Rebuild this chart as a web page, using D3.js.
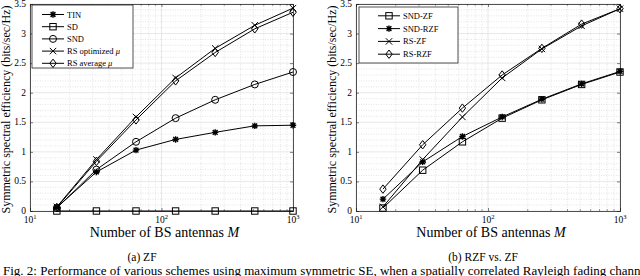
<!DOCTYPE html>
<html>
<head>
<meta charset="utf-8">
<script src="https://cdn.jsdelivr.net/npm/d3@7"></script>
<style>
  body { margin: 0; background: #fff; }
  svg { display: block; }
  text { font-family: "Liberation Serif", "DejaVu Serif", serif; fill: #000; }
</style>
</head>
<body>
<svg id="FIG" width="640" height="276"></svg>
<script>
// antenna counts (x values)
var antennas = [16, 32, 64, 128, 256, 512, 1000];

// (a) ZF
var tin = [0.06, 0.66, 1.03, 1.21, 1.33, 1.44, 1.45];
var sd = [0, 0, 0, 0, 0, 0, 0];
var snd = [0.05, 0.70, 1.17, 1.57, 1.88, 2.14, 2.35];
var rsOpt = [0.07, 0.87, 1.59, 2.25, 2.75, 3.14, 3.43];
var rsAvg = [0.06, 0.84, 1.54, 2.20, 2.68, 3.08, 3.36];

// (b) RZF vs ZF
var sndZf = [0.05, 0.69, 1.17, 1.57, 1.88, 2.14, 2.35];
var sndRzf = [0.20, 0.83, 1.26, 1.59, 1.89, 2.15, 2.36];
var rsZf = [0.07, 0.87, 1.59, 2.25, 2.74, 3.13, 3.42];
var rsRzf = [0.37, 1.12, 1.74, 2.30, 2.75, 3.16, 3.42];

var yTicks = [0, 0.5, 1, 1.5, 2, 2.5, 3, 3.5];
var xTicks = [10, 100, 1000];

var svg = d3.select("#FIG");

function marker(g, type, x, y) {
  var s = 3.2;
  var p = g.append("g").attr("transform", "translate(" + x + "," + y + ")")
    .attr("stroke", "#000").attr("stroke-width", 1).attr("fill", "none");
  if (type == "square") {
    p.append("rect").attr("x", -s).attr("y", -s).attr("width", 2 * s).attr("height", 2 * s);
  } else if (type == "circle") {
    p.append("circle").attr("r", s + 0.3);
  } else if (type == "diamond") {
    p.append("path").attr("d", "M0," + (-s - 1) + "L" + (s) + ",0L0," + (s + 1) + "L" + (-s) + ",0Z");
  } else if (type == "x") {
    p.append("path").attr("d", "M" + -s + "," + -s + "L" + s + "," + s + "M" + -s + "," + s + "L" + s + "," + -s);
  } else if (type == "star") {
    var a = s * 0.75;
    p.append("path").attr("stroke-width", 1.4).attr("d",
      "M" + -s + ",0L" + s + ",0M0," + -s + "L0," + s +
      "M" + -a + "," + -a + "L" + a + "," + a + "M" + -a + "," + a + "L" + a + "," + -a);
  }
}

function drawPanel(x0, x1, series, legendBox, caption, capX) {
  var yTop = 4, yBot = 211;
  var x = d3.scaleLog().domain([10, 1000]).range([x0, x1]);
  var y = d3.scaleLinear().domain([0, 3.5]).range([yBot, yTop]);
  var g = svg.append("g");

  // minor grid
  var minorX = [];
  [10, 100].forEach(function (d) {
    for (var k = 2; k <= 9; k++) minorX.push(d * k);
  });
  var minorY = d3.range(0, 35).map(function (i) { return i / 10; })
    .filter(function (v) { return Math.abs(v * 2 - Math.round(v * 2)) > 1e-6; });
  g.selectAll(".mx").data(minorX).join("line")
    .attr("x1", function (d) { return x(d); }).attr("x2", function (d) { return x(d); })
    .attr("y1", yTop).attr("y2", yBot)
    .attr("stroke", "#d4d4d4").attr("stroke-width", 0.6).attr("stroke-dasharray", "1,1.5");
  g.selectAll(".my").data(minorY).join("line")
    .attr("x1", x0).attr("x2", x1)
    .attr("y1", function (d) { return y(d); }).attr("y2", function (d) { return y(d); })
    .attr("stroke", "#d4d4d4").attr("stroke-width", 0.6).attr("stroke-dasharray", "1,1.5");
  // major grid
  g.selectAll(".gx").data(xTicks).join("line")
    .attr("x1", function (d) { return x(d); }).attr("x2", function (d) { return x(d); })
    .attr("y1", yTop).attr("y2", yBot)
    .attr("stroke", "#dcdcdc").attr("stroke-width", 0.7);
  g.selectAll(".gy").data(yTicks).join("line")
    .attr("x1", x0).attr("x2", x1)
    .attr("y1", function (d) { return y(d); }).attr("y2", function (d) { return y(d); })
    .attr("stroke", "#dcdcdc").attr("stroke-width", 0.7);

  // axes with inward ticks
  var ax = g.append("g").attr("transform", "translate(0," + yBot + ")")
    .call(d3.axisBottom(x).tickValues(xTicks).tickSize(-3).tickFormat(""));
  var axTop = g.append("g").attr("transform", "translate(0," + yTop + ")")
    .call(d3.axisTop(x).tickValues(xTicks).tickSize(-3).tickFormat(""));
  var ay = g.append("g").attr("transform", "translate(" + x0 + ",0)")
    .call(d3.axisLeft(y).tickValues(yTicks).tickSize(-3).tickFormat(""));
  var ayR = g.append("g").attr("transform", "translate(" + x1 + ",0)")
    .call(d3.axisRight(y).tickValues(yTicks).tickSize(-3).tickFormat(""));
  [ax, axTop, ay, ayR].forEach(function (a) {
    a.selectAll("path").attr("stroke", "#262626").attr("stroke-width", 0.8);
    a.selectAll("line").attr("stroke", "#262626").attr("stroke-width", 0.6);
  });
  // minor x ticks
  [yTop, yBot].forEach(function (yy) {
    var dir = yy == yTop ? 1 : -1;
    g.append("g").selectAll("line").data(minorX).join("line")
      .attr("x1", function (d) { return x(d); }).attr("x2", function (d) { return x(d); })
      .attr("y1", yy).attr("y2", yy + dir * 1.8)
      .attr("stroke", "#262626").attr("stroke-width", 0.5);
  });

  // tick labels
  g.selectAll(".yl").data(yTicks).join("text")
    .attr("x", x0 - 4).attr("y", function (d) { return y(d) + 3; })
    .attr("text-anchor", "end").attr("font-size", 9.5)
    .text(function (d) { return d; });
  xTicks.forEach(function (d) {
    var t = g.append("text").attr("x", x(d)).attr("y", yBot + 12)
      .attr("text-anchor", "middle").attr("font-size", 9.5);
    t.append("tspan").text("10");
    t.append("tspan").attr("dy", -4).attr("font-size", 6.5).text(Math.round(Math.log10(d)));
  });

  // axis titles
  var xl = g.append("text").attr("x", (x0 + x1) / 2 + 3).attr("y", yBot + 26)
    .attr("text-anchor", "middle").attr("font-size", 14);
  xl.append("tspan").text("Number of BS antennas ");
  xl.append("tspan").attr("font-style", "italic").text("M");
  g.append("text")
    .attr("transform", "translate(" + (x0 - 20) + "," + ((yTop + yBot) / 2 + 2) + ") rotate(-90)")
    .attr("text-anchor", "middle").attr("font-size", 12)
    .text("Symmetric spectral efficiency (bits/sec/Hz)");

  g.append("text").attr("x", capX).attr("y", 261)
    .attr("text-anchor", "middle").attr("font-size", 11.5).text(caption);

  // series
  var line = d3.line()
    .x(function (d, i) { return x(antennas[i]); })
    .y(function (d) { return y(d); });
  series.forEach(function (s) {
    g.append("path").datum(s.values).attr("d", line)
      .attr("fill", "none").attr("stroke", "#000").attr("stroke-width", 1);
    s.values.forEach(function (v, i) {
      marker(g, s.marker, x(antennas[i]), y(v));
    });
  });

  // legend
  var lg = g.append("g");
  lg.append("rect").attr("x", legendBox.x).attr("y", legendBox.y)
    .attr("width", legendBox.w).attr("height", legendBox.h)
    .attr("fill", "#fff").attr("stroke", "#262626").attr("stroke-width", 0.8);
  series.forEach(function (s, i) {
    var yy = legendBox.y + legendBox.first + i * legendBox.step;
    var lx = legendBox.x + legendBox.pad;
    lg.append("line").attr("x1", lx).attr("x2", lx + 22).attr("y1", yy).attr("y2", yy)
      .attr("stroke", "#000").attr("stroke-width", 1);
    marker(lg, s.marker, lx + 11, yy);
    var t = lg.append("text").attr("x", lx + 25).attr("y", yy + 3).attr("font-size", 8.5);
    t.append("tspan").text(s.label);
    if (s.mu) {
      t.append("tspan").text(" ");
      t.append("tspan").attr("font-style", "italic").text("μ");
    }
  });
}

drawPanel(30, 293, [
  { values: tin, marker: "star", label: "TIN" },
  { values: sd, marker: "square", label: "SD" },
  { values: snd, marker: "circle", label: "SND" },
  { values: rsOpt, marker: "x", label: "RS optimized", mu: true },
  { values: rsAvg, marker: "diamond", label: "RS average", mu: true }
], { x: 32, y: 5, w: 101, h: 63, first: 9.5, step: 12.2, pad: 10 }, "(a) ZF", 142);

drawPanel(356, 620, [
  { values: sndZf, marker: "square", label: "SND-ZF" },
  { values: sndRzf, marker: "star", label: "SND-RZF" },
  { values: rsZf, marker: "x", label: "RS-ZF" },
  { values: rsRzf, marker: "diamond", label: "RS-RZF" }
], { x: 359, y: 7, w: 99, h: 56, first: 8.8, step: 12.8, pad: 19 }, "(b) RZF vs. ZF", 483);

svg.append("text").attr("x", 3).attr("y", 275).attr("font-size", 13)
  .text("Fig. 2: Performance of various schemes using maximum symmetric SE, when a spatially correlated Rayleigh fading channel is considered.");
</script>
</body>
</html>
